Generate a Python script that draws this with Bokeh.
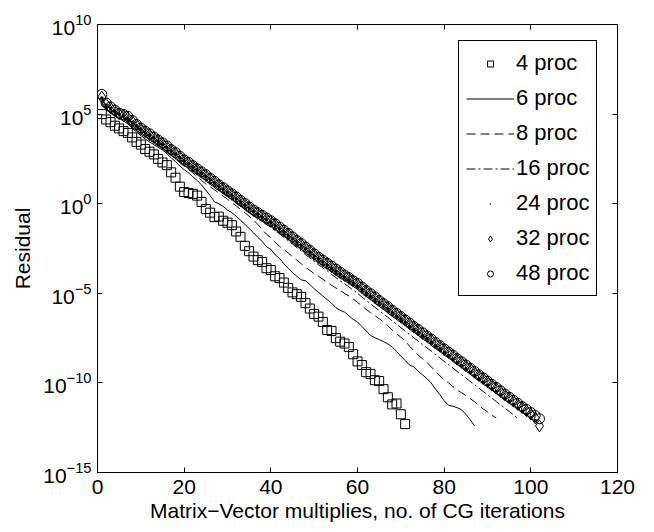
from bokeh.plotting import figure
from bokeh.models import (LinearAxis, LogAxis, FixedTicker, Legend, LegendItem,
                          CustomJSTickFormatter)
from bokeh.embed import file_html
from bokeh.resources import INLINE

# ---- data (log10 of residual, one value per CG iteration) ----
proc4_log10 = [5.0, 4.7, 4.55, 4.35, 4.2, 4.05, 3.95, 3.7, 3.45, 3.3,
               3.05, 2.9, 2.75, 2.5, 2.3, 2.15, 1.75, 1.45, 0.95, 0.65,
               0.6, 0.55, 0.45, 0.1, -0.3, -0.5, -0.75, -0.72, -0.95, -1.06,
               -1.2, -1.55, -1.85, -2.35, -2.65, -2.95, -3.15, -3.25, -3.6, -3.7,
               -4.05, -4.15, -4.4, -4.7, -4.95, -5.05, -5.2, -5.55, -5.85, -6.15,
               -6.3, -6.6, -7.05, -7.1, -7.5, -7.7, -7.8, -8.0, -8.4, -8.8,
               -9.0, -9.4, -9.5, -9.85, -9.9, -10.35, -10.8, -11.2, -11.15, -11.75,
               -12.3]
proc6_log10 = [5.65, 5.30, 5.10, 4.92, 4.75, 4.62, 4.45, 4.22, 4.00, 3.80,
               3.62, 3.45, 3.30, 3.15, 3.00, 2.80, 2.56, 2.35, 2.10, 1.90,
               1.72, 1.50, 1.30, 1.05, 0.75, 0.45, 0.10, 0.00, -0.15, -0.35,
               -0.50, -0.70, -0.92, -1.15, -1.38, -1.62, -1.88, -2.10, -2.40, -2.55,
               -2.85, -3.05, -3.35, -3.60, -3.85, -4.05, -4.25, -4.30, -4.50, -4.75,
               -4.95, -5.15, -5.35, -5.55, -5.80, -5.95, -6.05, -6.25, -6.45, -6.60,
               -6.85, -7.10, -7.35, -7.48, -7.58, -7.70, -7.82, -8.00, -8.25, -8.50,
               -8.75, -9.00, -9.10, -9.35, -9.55, -9.75, -10.00, -10.35, -10.65, -11.00,
               -11.25, -11.30, -11.38, -11.50, -11.75, -12.05, -12.40]
proc8_log10 = [5.80, 5.42, 5.25, 5.08, 4.92, 4.80, 4.65, 4.45, 4.25, 4.05,
               3.88, 3.70, 3.50, 3.30, 3.10, 2.92, 2.72, 2.52, 2.30, 2.10,
               1.90, 1.72, 1.50, 1.30, 1.10, 0.94, 0.78, 0.60, 0.42, 0.25,
               0.05, -0.12, -0.32, -0.50, -0.70, -0.92, -1.15, -1.45, -1.70, -1.90,
               -2.15, -2.38, -2.55, -2.75, -2.95, -3.15, -3.35, -3.55, -3.72, -3.90,
               -4.05, -4.22, -4.38, -4.55, -4.70, -4.85, -5.00, -5.15, -5.32, -5.50,
               -5.70, -5.90, -6.08, -6.25, -6.42, -6.60, -6.82, -7.05, -7.25, -7.45,
               -7.65, -7.95, -8.20, -8.45, -8.65, -8.85, -9.10, -9.35, -9.60, -9.82,
               -10.00, -10.20, -10.40, -10.55, -10.70, -10.88, -11.05, -11.25, -11.45, -11.62,
               -11.80, -11.95]
proc16_log10 = [5.85, 5.48, 5.30, 5.12, 4.98, 4.88, 4.74, 4.52, 4.32, 4.12,
                3.95, 3.78, 3.60, 3.42, 3.25, 3.06, 2.88, 2.68, 2.48, 2.28,
                2.10, 1.92, 1.74, 1.55, 1.36, 1.18, 0.98, 0.80, 0.62, 0.44,
                0.26, 0.08, -0.12, -0.30, -0.48, -0.66, -0.84, -1.00, -1.16, -1.32,
                -1.50, -1.68, -1.88, -2.06, -2.25, -2.45, -2.64, -2.84, -3.02, -3.22,
                -3.40, -3.58, -3.75, -3.94, -4.12, -4.30, -4.46, -4.64, -4.82, -5.00,
                -5.20, -5.40, -5.58, -5.78, -5.96, -6.15, -6.34, -6.54, -6.72, -6.92,
                -7.10, -7.30, -7.48, -7.66, -7.86, -8.04, -8.22, -8.42, -8.60, -8.80,
                -8.98, -9.16, -9.36, -9.54, -9.72, -9.92, -10.10, -10.28, -10.48, -10.66,
                -10.84, -11.04, -11.22, -11.40, -11.60, -11.78, -11.98]
proc24_log10 = [5.90, 5.50, 5.32, 5.15, 5.00, 4.90, 4.76, 4.55, 4.35, 4.15,
                3.98, 3.82, 3.66, 3.48, 3.32, 3.14, 2.96, 2.78, 2.58, 2.38,
                2.22, 2.05, 1.88, 1.70, 1.52, 1.35, 1.16, 0.98, 0.80, 0.63,
                0.45, 0.27, 0.10, -0.08, -0.26, -0.44, -0.60, -0.75, -0.90, -1.05,
                -1.22, -1.40, -1.58, -1.77, -1.95, -2.14, -2.32, -2.52, -2.70, -2.90,
                -3.08, -3.26, -3.42, -3.60, -3.77, -3.94, -4.10, -4.26, -4.42, -4.60,
                -4.78, -4.98, -5.16, -5.34, -5.52, -5.70, -5.88, -6.08, -6.26, -6.44,
                -6.62, -6.82, -7.00, -7.18, -7.36, -7.54, -7.72, -7.92, -8.10, -8.30,
                -8.48, -8.66, -8.86, -9.04, -9.22, -9.40, -9.60, -9.78, -9.96, -10.14,
                -10.32, -10.50, -10.68, -10.86, -11.04, -11.22, -11.40, -11.58, -11.76, -11.94,
                -12.10]
proc32_log10 = [5.95, 5.55, 5.35, 5.20, 5.02, 4.92, 4.80, 4.60, 4.40, 4.18,
                4.02, 3.85, 3.70, 3.52, 3.36, 3.18, 3.00, 2.82, 2.62, 2.42,
                2.26, 2.10, 1.92, 1.75, 1.58, 1.40, 1.22, 1.04, 0.86, 0.70,
                0.52, 0.34, 0.16, -0.02, -0.20, -0.38, -0.54, -0.68, -0.84, -0.98,
                -1.15, -1.34, -1.50, -1.70, -1.88, -2.06, -2.25, -2.44, -2.62, -2.82,
                -3.00, -3.18, -3.34, -3.52, -3.68, -3.85, -4.00, -4.16, -4.32, -4.48,
                -4.68, -4.88, -5.05, -5.24, -5.42, -5.60, -5.78, -5.97, -6.15, -6.33,
                -6.50, -6.70, -6.88, -7.05, -7.24, -7.40, -7.58, -7.78, -7.95, -8.14,
                -8.30, -8.48, -8.68, -8.85, -9.04, -9.20, -9.40, -9.58, -9.76, -9.94,
                -10.12, -10.30, -10.48, -10.66, -10.84, -11.02, -11.20, -11.38, -11.55, -11.74,
                -11.95, -12.40]
proc48_log10 = [6.10, 5.62, 5.40, 5.22, 5.05, 4.98, 4.88, 4.65, 4.42, 4.22,
                4.05, 3.90, 3.72, 3.55, 3.40, 3.22, 3.02, 2.85, 2.65, 2.45,
                2.30, 2.12, 1.95, 1.78, 1.62, 1.42, 1.25, 1.05, 0.90, 0.72,
                0.55, 0.38, 0.18, 0.02, -0.18, -0.35, -0.50, -0.65, -0.80, -0.95,
                -1.12, -1.30, -1.48, -1.66, -1.85, -2.05, -2.22, -2.42, -2.60, -2.80,
                -2.98, -3.15, -3.32, -3.48, -3.65, -3.82, -3.98, -4.12, -4.30, -4.45,
                -4.65, -4.85, -5.02, -5.20, -5.40, -5.58, -5.75, -5.95, -6.12, -6.30,
                -6.48, -6.66, -6.85, -7.02, -7.20, -7.38, -7.55, -7.75, -7.92, -8.10,
                -8.28, -8.45, -8.65, -8.82, -9.00, -9.18, -9.36, -9.55, -9.72, -9.90,
                -10.08, -10.25, -10.44, -10.62, -10.80, -10.97, -11.14, -11.32, -11.48, -11.65,
                -11.82, -12.00]

labels = ["4 proc", "6 proc", "8 proc", "16 proc", "24 proc", "32 proc", "48 proc"]
x_ticks = [0, 20, 40, 60, 80, 100, 120]
y_ticks = [1e-15, 1e-10, 1e-5, 1e0, 1e5, 1e10]


def series(logs):
    its = list(range(1, len(logs) + 1))
    return its, [10.0 ** v for v in logs]


FONT = "Liberation Sans"

p = figure(width=646, height=524, x_range=(0, 120), y_range=(1e-15, 1e10),
           y_axis_type="log", output_backend="svg", toolbar_location=None,
           min_border_left=97, min_border_right=29, min_border_top=24,
           min_border_bottom=50, background_fill_color="white",
           border_fill_color="white")
p.grid.visible = False
p.outline_line_color = "black"
p.outline_line_width = 1

for ax in (p.xaxis[0], p.yaxis[0]):
    ax.major_tick_in = 5
    ax.major_tick_out = 0
    ax.minor_tick_line_color = None
    ax.axis_line_color = "black"
    ax.major_tick_line_color = "black"
    ax.major_label_text_font = FONT
    ax.major_label_text_font_size = "21px"
    ax.major_label_text_color = "black"
    ax.axis_label_text_font = FONT
    ax.axis_label_text_font_size = "21px"
    ax.axis_label_text_font_style = "normal"
    ax.axis_label_text_color = "black"

p.xaxis.ticker = FixedTicker(ticks=x_ticks)
p.yaxis.ticker = FixedTicker(ticks=y_ticks)
p.xaxis.axis_label = "Matrix\u2212Vector multiplies, no. of CG iterations"
p.yaxis.axis_label = "Residual"
p.xaxis.major_label_standoff = 7
p.yaxis.major_label_standoff = 6
p.xaxis.axis_label_standoff = 2
p.yaxis.axis_label_standoff = 6

top_ax = LinearAxis(ticker=FixedTicker(ticks=x_ticks),
                    formatter=CustomJSTickFormatter(code="return ''"),
                    major_tick_in=5, major_tick_out=0, minor_tick_line_color=None,
                    major_label_standoff=0, axis_line_color="black")
right_ax = LogAxis(ticker=FixedTicker(ticks=y_ticks),
                   formatter=CustomJSTickFormatter(code="return ''"),
                   major_tick_in=5, major_tick_out=0, minor_tick_line_color=None,
                   major_label_standoff=0, axis_line_color="black")
p.add_layout(top_ax, "above")
p.add_layout(right_ax, "right")

x4, y4 = series(proc4_log10)
x6, y6 = series(proc6_log10)
x8, y8 = series(proc8_log10)
x16, y16 = series(proc16_log10)
x24, y24 = series(proc24_log10)
x32, y32 = series(proc32_log10)
x48, y48 = series(proc48_log10)

r4 = p.scatter(x4, y4, marker="square", size=9, fill_alpha=0, line_color="black", line_width=1)
r6 = p.line(x6, y6, line_color="black", line_width=1)
r8 = p.line(x8, y8, line_color="black", line_width=1, line_dash="9 5")
r16 = p.line(x16, y16, line_color="black", line_width=1, line_dash="9 3 2 3")
r24 = p.scatter(x24, y24, marker="dot", size=14, line_color="black", fill_color="black")
r32 = p.scatter(x32, y32, marker="diamond", size=12, fill_alpha=0, line_color="black", line_width=1)
r48 = p.scatter(x48, y48, marker="circle", size=10, fill_alpha=0, line_color="black", line_width=1)

legend = Legend(items=[LegendItem(label=l, renderers=[r]) for l, r in
                       zip(labels, [r4, r6, r8, r16, r24, r32, r48])],
                location=(361, 176), border_line_color="black", border_line_width=1,
                border_line_alpha=1, background_fill_color="white", background_fill_alpha=1,
                label_text_font=FONT, label_text_font_size="22px", label_text_color="black",
                glyph_width=48, glyph_height=15, label_height=30, spacing=5,
                padding=7, label_standoff=2, margin=0)
p.add_layout(legend, "center")

open("out.html", "w").write(file_html(p, INLINE))
